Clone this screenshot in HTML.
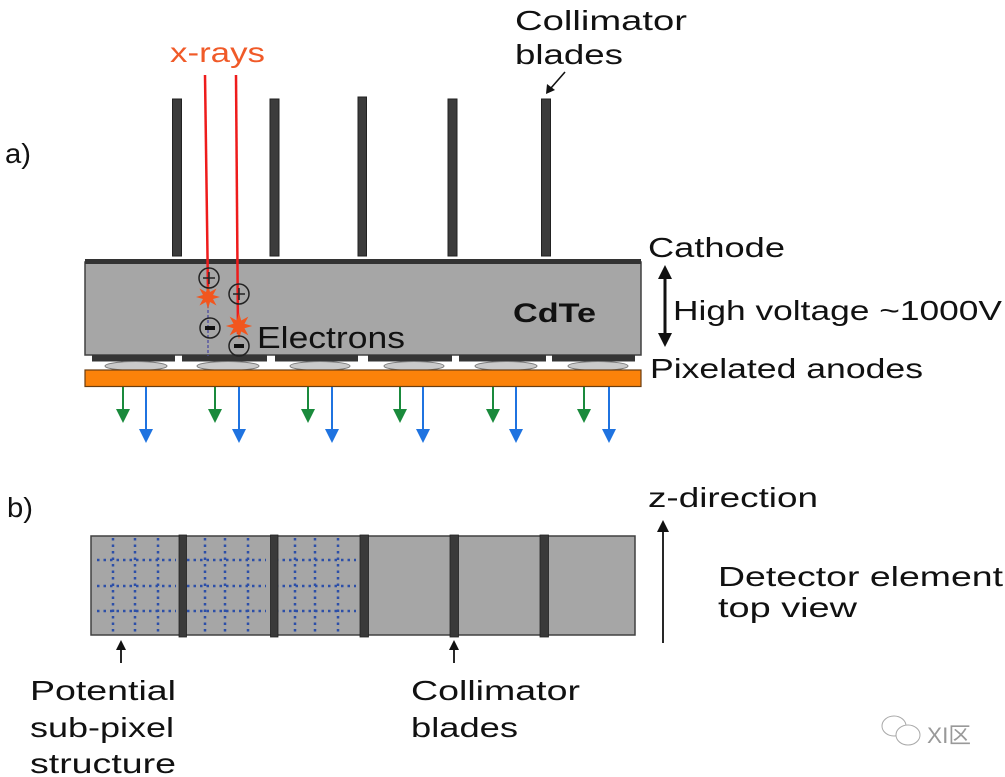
<!DOCTYPE html>
<html><head><meta charset="utf-8"><style>
html,body{margin:0;padding:0;background:#fff;}
svg{display:block;}
text{font-family:"Liberation Sans","Noto Sans CJK SC",sans-serif;fill:#111;}
</style></head><body>
<svg width="1005" height="777" viewBox="0 0 1005 777" xmlns="http://www.w3.org/2000/svg">
<!-- Panel a labels -->
<text x="5" y="163" font-size="28" textLength="26" lengthAdjust="spacingAndGlyphs">a)</text>
<text x="170" y="62" font-size="28" textLength="95" lengthAdjust="spacingAndGlyphs" style="fill:#f05a28">x-rays</text>
<text x="515" y="30" font-size="28" textLength="172" lengthAdjust="spacingAndGlyphs">Collimator</text>
<text x="515" y="64" font-size="28" textLength="108" lengthAdjust="spacingAndGlyphs">blades</text>
<line x1="565" y1="72" x2="551" y2="88" stroke="#111" stroke-width="1.6"/>
<polygon points="546,94 547,84 555,90" fill="#111"/>

<!-- collimator blades -->
<g fill="#3c3c3c" stroke="#222" stroke-width="1">
<rect x="172.5" y="99" width="9" height="157"/>
<rect x="270" y="99" width="9" height="157"/>
<rect x="358" y="97" width="8.5" height="159"/>
<rect x="448" y="99" width="9" height="157"/>
<rect x="541.5" y="99" width="9" height="157"/>
</g>

<!-- detector body -->
<rect x="85" y="262" width="556" height="93" fill="#a6a6a6" stroke="#404040" stroke-width="1.5"/>
<rect x="85" y="259" width="556" height="5" fill="#333"/>
<!-- pads -->
<g fill="#353535">
<rect x="92" y="355" width="83" height="6.5"/>
<rect x="182" y="355" width="85" height="6.5"/>
<rect x="275" y="355" width="83" height="6.5"/>
<rect x="368" y="355" width="84" height="6.5"/>
<rect x="459" y="355" width="87" height="6.5"/>
<rect x="552" y="355" width="83" height="6.5"/>
</g>
<g fill="#cacaca" stroke="#7a7a7a" stroke-width="1">
<ellipse cx="136" cy="366" rx="31" ry="4.5"/>
<ellipse cx="228" cy="366" rx="31" ry="4.5"/>
<ellipse cx="320" cy="366" rx="30" ry="4.5"/>
<ellipse cx="414" cy="366" rx="30" ry="4.5"/>
<ellipse cx="506" cy="366" rx="31" ry="4.5"/>
<ellipse cx="598" cy="366" rx="30" ry="4.5"/>
</g>
<rect x="85" y="370" width="556" height="16.5" fill="#fb820a" stroke="#6a3d10" stroke-width="1.2"/>

<!-- signal arrows -->
<g stroke="#1a8a3c" stroke-width="2" fill="none">
<line x1="123" y1="387" x2="123" y2="412"/><line x1="215" y1="387" x2="215" y2="412"/>
<line x1="308" y1="387" x2="308" y2="412"/><line x1="400" y1="387" x2="400" y2="412"/>
<line x1="493" y1="387" x2="493" y2="412"/><line x1="584" y1="387" x2="584" y2="412"/>
</g>
<g fill="#1a8a3c">
<polygon points="116,409 130,409 123,423"/><polygon points="208,409 222,409 215,423"/>
<polygon points="301,409 315,409 308,423"/><polygon points="393,409 407,409 400,423"/>
<polygon points="486,409 500,409 493,423"/><polygon points="577,409 591,409 584,423"/>
</g>
<g stroke="#1f73e0" stroke-width="2" fill="none">
<line x1="146" y1="387" x2="146" y2="432"/><line x1="239" y1="387" x2="239" y2="432"/>
<line x1="332" y1="387" x2="332" y2="432"/><line x1="423" y1="387" x2="423" y2="432"/>
<line x1="516" y1="387" x2="516" y2="432"/><line x1="609" y1="387" x2="609" y2="432"/>
</g>
<g fill="#1f73e0">
<polygon points="139,429 153,429 146,443"/><polygon points="232,429 246,429 239,443"/>
<polygon points="325,429 339,429 332,443"/><polygon points="416,429 430,429 423,443"/>
<polygon points="509,429 523,429 516,443"/><polygon points="602,429 616,429 609,443"/>
</g>

<!-- x-ray lines -->
<line x1="205" y1="75" x2="208" y2="292" stroke="#ee1c1c" stroke-width="2.5"/>
<line x1="236" y1="75" x2="238" y2="334" stroke="#ee1c1c" stroke-width="2.5"/>
<!-- purple dashed path -->
<line x1="208" y1="300" x2="208" y2="356" stroke="#4a4aa0" stroke-width="1.3" stroke-dasharray="3,2"/>

<!-- stars -->
<g fill="#f2561e">
<polygon transform="translate(208,297)" points="0,-12 2,-5 8.5,-8.5 5,-2 12,0 5,2 8.5,8.5 2,5 0,12 -2,5 -8.5,8.5 -5,2 -12,0 -5,-2 -8.5,-8.5 -2,-5"/>
<polygon transform="translate(239,326) scale(1.1)" points="0,-12 2,-5 8.5,-8.5 5,-2 12,0 5,2 8.5,8.5 2,5 0,12 -2,5 -8.5,8.5 -5,2 -12,0 -5,-2 -8.5,-8.5 -2,-5"/>
</g>
<!-- charges -->
<g fill="none" stroke="#222" stroke-width="1.5">
<circle cx="209" cy="278" r="10"/>
<circle cx="239" cy="294" r="10"/>
<circle cx="210" cy="328" r="10"/>
<circle cx="239" cy="346" r="10"/>
<line x1="203" y1="278" x2="215" y2="278"/><line x1="209" y1="272" x2="209" y2="284"/>
<line x1="233" y1="294" x2="245" y2="294"/><line x1="239" y1="288" x2="239" y2="300"/>
</g>
<rect x="205" y="326" width="10" height="4" fill="#111"/>
<rect x="234" y="344" width="10" height="4" fill="#111"/>

<text x="257" y="348" font-size="31" textLength="148" lengthAdjust="spacingAndGlyphs">Electrons</text>
<text x="513" y="322" font-size="27" font-weight="bold" textLength="83" lengthAdjust="spacingAndGlyphs">CdTe</text>

<!-- right labels -->
<text x="648" y="257" font-size="28" textLength="137" lengthAdjust="spacingAndGlyphs">Cathode</text>
<text x="673" y="320" font-size="28" textLength="329" lengthAdjust="spacingAndGlyphs">High voltage ~1000V</text>
<text x="650" y="378" font-size="28" textLength="273" lengthAdjust="spacingAndGlyphs">Pixelated anodes</text>
<line x1="665" y1="276" x2="665" y2="336" stroke="#111" stroke-width="3"/>
<polygon points="665,265 658,279 672,279" fill="#111"/>
<polygon points="665,347 658,333 672,333" fill="#111"/>

<!-- Panel b -->
<text x="7" y="517" font-size="28" textLength="26" lengthAdjust="spacingAndGlyphs">b)</text>
<rect x="91" y="536" width="544" height="99" fill="#a6a6a6" stroke="#404040" stroke-width="1.5"/>
<g stroke="#2c4fa8" stroke-width="2.5" stroke-dasharray="2.5,4" fill="none">
<line x1="113" y1="538" x2="113" y2="634"/><line x1="135" y1="538" x2="135" y2="634"/><line x1="158" y1="538" x2="158" y2="634"/>
<line x1="97" y1="560" x2="176" y2="560"/><line x1="97" y1="586" x2="176" y2="586"/><line x1="97" y1="611" x2="176" y2="611"/>
<line x1="205" y1="538" x2="205" y2="634"/><line x1="225" y1="538" x2="225" y2="634"/><line x1="248" y1="538" x2="248" y2="634"/>
<line x1="187" y1="560" x2="266" y2="560"/><line x1="187" y1="586" x2="266" y2="586"/><line x1="187" y1="611" x2="266" y2="611"/>
<line x1="295" y1="538" x2="295" y2="634"/><line x1="315" y1="538" x2="315" y2="634"/><line x1="338" y1="538" x2="338" y2="634"/>
<line x1="276" y1="560" x2="356" y2="560"/><line x1="276" y1="586" x2="356" y2="586"/><line x1="276" y1="611" x2="356" y2="611"/>
</g>
<g fill="#3a3a3a" stroke="#222" stroke-width="0.8">
<rect x="179" y="535" width="7.5" height="102"/>
<rect x="270.5" y="535" width="7.5" height="102"/>
<rect x="360" y="535" width="8.5" height="102"/>
<rect x="450" y="535" width="8.5" height="102"/>
<rect x="540" y="535" width="8.5" height="102"/>
</g>
<!-- small arrows -->
<line x1="121" y1="648" x2="121" y2="663" stroke="#111" stroke-width="1.8"/>
<polygon points="121,640 116,650 126,650" fill="#111"/>
<line x1="454" y1="648" x2="454" y2="663" stroke="#111" stroke-width="1.8"/>
<polygon points="454,640 449,650 459,650" fill="#111"/>
<!-- z arrow -->
<line x1="663" y1="530" x2="663" y2="643" stroke="#111" stroke-width="1.8"/>
<polygon points="663,520 657,532 669,532" fill="#111"/>

<text x="648" y="507" font-size="28" textLength="170" lengthAdjust="spacingAndGlyphs">z-direction</text>
<text x="718" y="586" font-size="28" textLength="285" lengthAdjust="spacingAndGlyphs">Detector element</text>
<text x="718" y="617" font-size="28" textLength="139" lengthAdjust="spacingAndGlyphs">top view</text>

<text x="30" y="700" font-size="28" textLength="146" lengthAdjust="spacingAndGlyphs">Potential</text>
<text x="30" y="737" font-size="28" textLength="144" lengthAdjust="spacingAndGlyphs">sub-pixel</text>
<text x="30" y="773" font-size="28" textLength="146" lengthAdjust="spacingAndGlyphs">structure</text>
<text x="411" y="700" font-size="28" textLength="169" lengthAdjust="spacingAndGlyphs">Collimator</text>
<text x="411" y="737" font-size="28" textLength="107" lengthAdjust="spacingAndGlyphs">blades</text>

<!-- watermark -->
<g fill="none" stroke="#aaa" stroke-width="1">
<ellipse cx="894" cy="726" rx="12" ry="10"/>
<ellipse cx="908" cy="735" rx="12" ry="10" fill="#fff"/>
</g>
<text x="927" y="743" font-size="22" textLength="44" lengthAdjust="spacingAndGlyphs" style="fill:#999">XI区</text>
</svg>
</body></html>
